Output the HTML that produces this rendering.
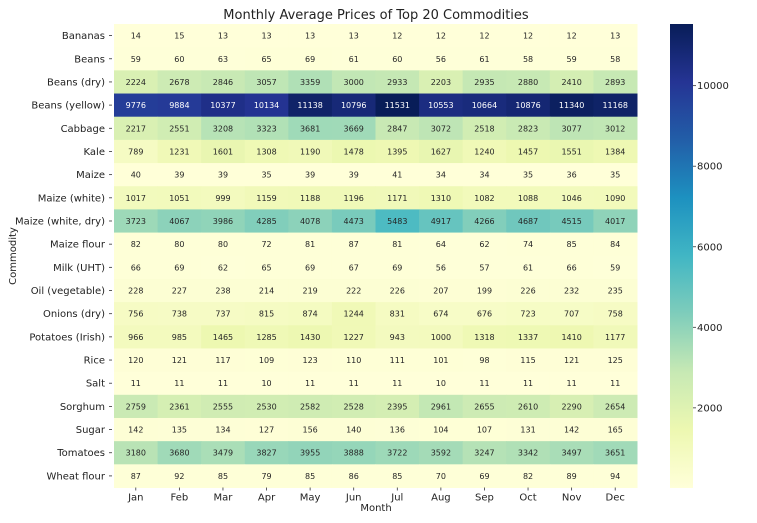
<!DOCTYPE html>
<html><head><meta charset="utf-8"><style>
body{margin:0;background:#fff;font-family:"DejaVu Sans","Liberation Sans",sans-serif;}
svg{display:block}
</style></head><body>
<svg id="chart" width="757" height="523" xmlns="http://www.w3.org/2000/svg" font-family="DejaVu Sans, Liberation Sans, sans-serif">
<defs><linearGradient id="cbg" x1="0" y1="1" x2="0" y2="0">
<stop offset="0" stop-color="#ffffd9"/><stop offset="0.125" stop-color="#edf8b1"/><stop offset="0.25" stop-color="#c7e9b4"/><stop offset="0.375" stop-color="#7fcdbb"/><stop offset="0.5" stop-color="#41b6c4"/><stop offset="0.625" stop-color="#1d91c0"/><stop offset="0.75" stop-color="#225ea8"/><stop offset="0.875" stop-color="#253494"/><stop offset="1" stop-color="#081d58"/>
</linearGradient></defs>
<text x="376" y="19" text-anchor="middle" font-size="13" fill="#222">Monthly Average Prices of Top 20 Commodities</text>
<text transform="translate(16,256) rotate(-90)" text-anchor="middle" font-size="10" fill="#222">Commodity</text>
<text x="376" y="511" text-anchor="middle" font-size="10" fill="#222">Month</text>
<g id="cells"></g>
<rect x="670" y="24" width="23" height="464" fill="url(#cbg)"/>
<g id="cbticks"></g>
</svg>
<script>
const commodities=["Bananas","Beans","Beans (dry)","Beans (yellow)","Cabbage","Kale","Maize","Maize (white)","Maize (white, dry)","Maize flour","Milk (UHT)","Oil (vegetable)","Onions (dry)","Potatoes (Irish)","Rice","Salt","Sorghum","Sugar","Tomatoes","Wheat flour"];
const months=["Jan","Feb","Mar","Apr","May","Jun","Jul","Aug","Sep","Oct","Nov","Dec"];
const bananas=[14,15,13,13,13,13,12,12,12,12,12,13];
const beans=[59,60,63,65,69,61,60,56,61,58,59,58];
const beansDry=[2224,2678,2846,3057,3359,3000,2933,2203,2935,2880,2410,2893];
const beansYellow=[9776,9884,10377,10134,11138,10796,11531,10553,10664,10876,11340,11168];
const cabbage=[2217,2551,3208,3323,3681,3669,2847,3072,2518,2823,3077,3012];
const kale=[789,1231,1601,1308,1190,1478,1395,1627,1240,1457,1551,1384];
const maize=[40,39,39,35,39,39,41,34,34,35,36,35];
const maizeWhite=[1017,1051,999,1159,1188,1196,1171,1310,1082,1088,1046,1090];
const maizeWhiteDry=[3723,4067,3986,4285,4078,4473,5483,4917,4266,4687,4515,4017];
const maizeFlour=[82,80,80,72,81,87,81,64,62,74,85,84];
const milk=[66,69,62,65,69,67,69,56,57,61,66,59];
const oil=[228,227,238,214,219,222,226,207,199,226,232,235];
const onions=[756,738,737,815,874,1244,831,674,676,723,707,758];
const potatoes=[966,985,1465,1285,1430,1227,943,1000,1318,1337,1410,1177];
const rice=[120,121,117,109,123,110,111,101,98,115,121,125];
const salt=[11,11,11,10,11,11,11,10,11,11,11,11];
const sorghum=[2759,2361,2555,2530,2582,2528,2395,2961,2655,2610,2290,2654];
const sugar=[142,135,134,127,156,140,136,104,107,131,142,165];
const tomatoes=[3180,3680,3479,3827,3955,3888,3722,3592,3247,3342,3497,3651];
const wheatFlour=[87,92,85,79,85,86,85,70,69,82,89,94];
const cbTicks=[2000,4000,6000,8000,10000];
const rows=[bananas,beans,beansDry,beansYellow,cabbage,kale,maize,maizeWhite,maizeWhiteDry,maizeFlour,milk,oil,onions,potatoes,rice,salt,sorghum,sugar,tomatoes,wheatFlour];

const NS="http://www.w3.org/2000/svg";
const X0=114,X1=637,Y0=24,Y1=487.5;
const cw=(X1-X0)/months.length, ch=(Y1-Y0)/commodities.length;
const all=rows.flat();const vmin=Math.min(...all),vmax=Math.max(...all);
const stops=["#ffffd9","#edf8b1","#c7e9b4","#7fcdbb","#41b6c4","#1d91c0","#225ea8","#253494","#081d58"].map(h=>[1,3,5].map(i=>parseInt(h.substr(i,2),16)));
function color(v){let t=(v-vmin)/(vmax-vmin);t=Math.max(0,Math.min(1,t));const p=t*(stops.length-1);const i=Math.min(Math.floor(p),stops.length-2);const f=p-i;const c=stops[i].map((a,k)=>Math.round(a+(stops[i+1][k]-a)*f));return c;}
function xs(j){return X0+j*cw;} function ys(i){return Y0+i*ch;}
function mk(tag,attrs,parent){const e=document.createElementNS(NS,tag);for(const k in attrs)e.setAttribute(k,attrs[k]);parent.appendChild(e);return e;}
const g=document.getElementById("cells");
rows.forEach((r,i)=>{
  r.forEach((v,j)=>{
    const c=color(v);
    const rect=mk("rect",{x:xs(j),y:ys(i),width:cw+0.5,height:ch+0.5,fill:`rgb(${c})`},g);
    
    
    const lum=(0.2126*c[0]+0.7152*c[1]+0.0722*c[2])/255;
    const t=mk("text",{x:xs(j)+cw/2,y:ys(i)+ch/2+3,"text-anchor":"middle","font-size":"8",fill:lum>0.408?"#262626":"#fff"},g);
    t.textContent=v;
    
    
  });
  const l=mk("text",{x:X0-9,y:ys(i)+ch/2+3.5,"text-anchor":"end","font-size":"10",fill:"#222"},g);
  l.textContent=commodities[i];
  
  
  const tk=mk("line",{x1:X0-5,x2:X0-2,y1:ys(i)+ch/2,y2:ys(i)+ch/2,stroke:"#333","stroke-width":"0.8"},g);
  
  
});
months.forEach((m,j)=>{
  const t=mk("text",{x:xs(j)+cw/2,y:Y1+13,"text-anchor":"middle","font-size":"10",fill:"#222"},g);
  t.textContent=m;
  
  
  const tk=mk("line",{x1:xs(j)+cw/2,x2:xs(j)+cw/2,y1:Y1,y2:Y1+3,stroke:"#333","stroke-width":"0.8"},g);
  
  
});
const cb=document.getElementById("cbticks");
const CB0=488,CB1=24;
cbTicks.forEach(v=>{
  const y=CB0-(v-vmin)/(vmax-vmin)*(CB0-CB1);
  const tk=mk("line",{x1:693,x2:696,y1:y,y2:y,stroke:"#333","stroke-width":"0.8"},cb);
  
  
  const t=mk("text",{x:697,y:y+3.5,"font-size":"10",fill:"#222"},cb);
  t.textContent=v;
  
  
});
</script>
</body></html>
